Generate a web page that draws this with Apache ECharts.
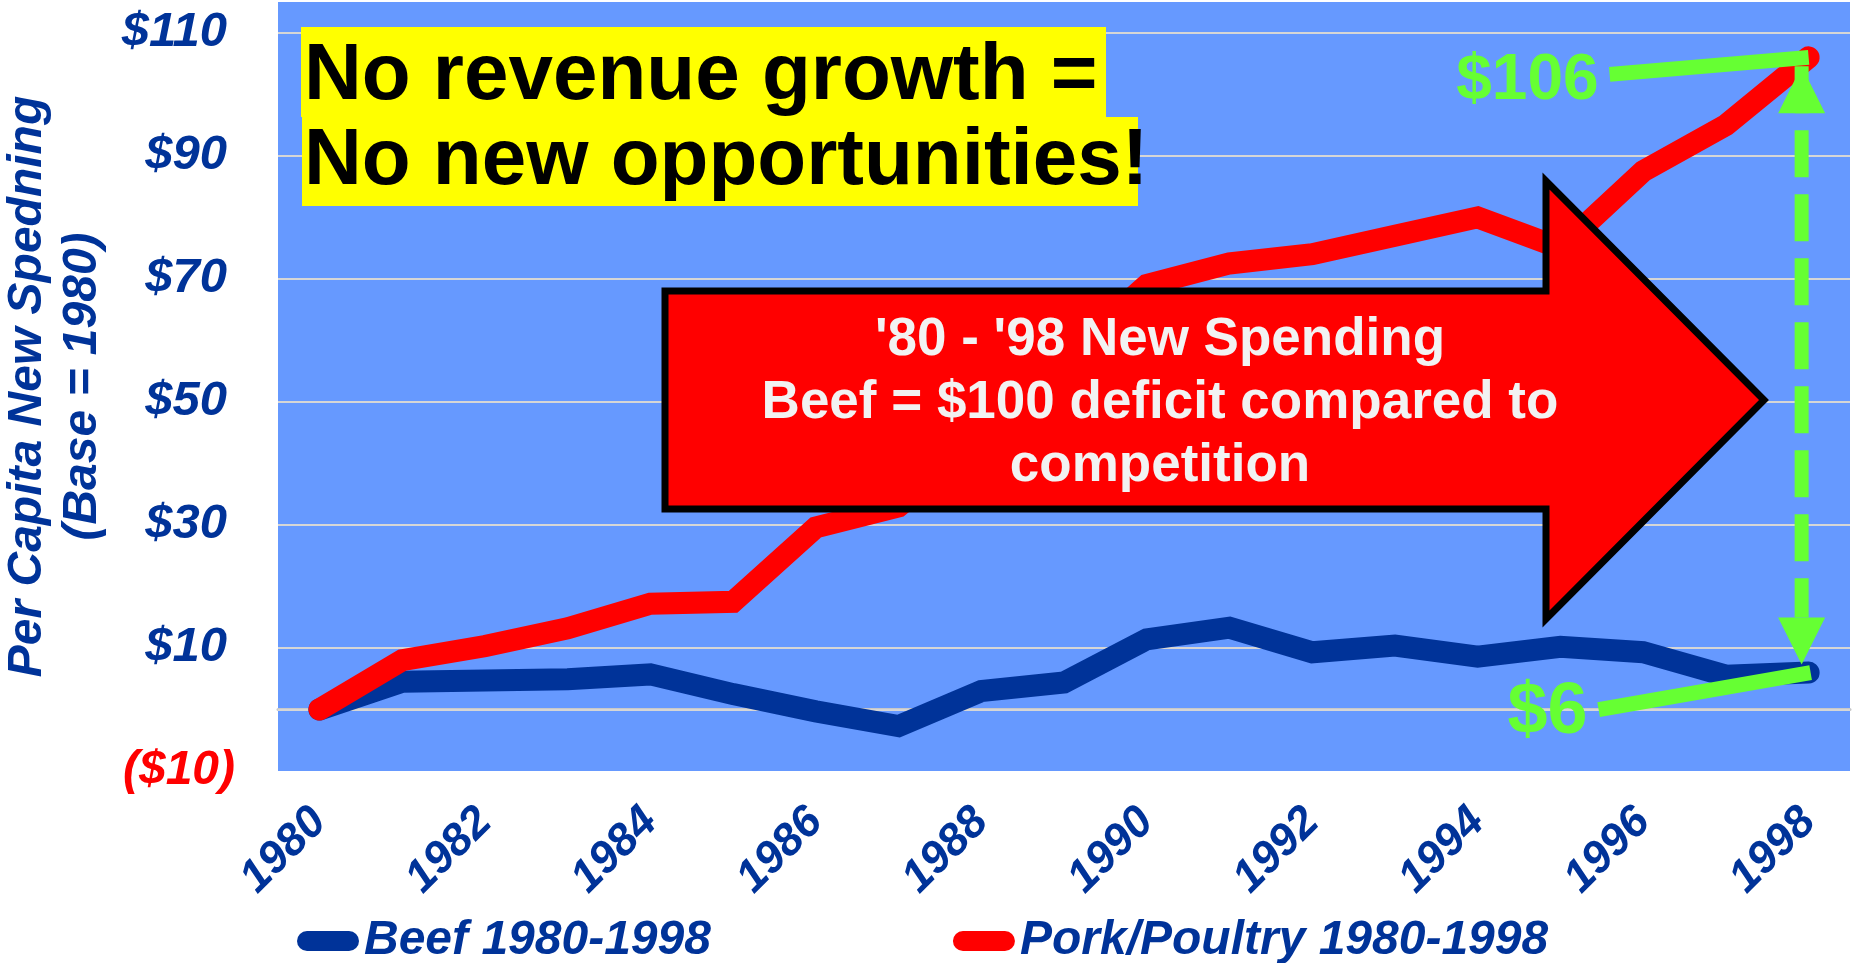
<!DOCTYPE html>
<html>
<head>
<meta charset="utf-8">
<script src="https://cdn.jsdelivr.net/npm/echarts@6/dist/echarts.min.js"></script>
<style>
html,body{margin:0;padding:0;background:#ffffff;}
#c{width:1855px;height:963px;}
</style>
</head>
<body>
<div id="c"></div>
<script>
// ---------- data ----------
const years = ['1980','1981','1982','1983','1984','1985','1986','1987','1988','1989',
               '1990','1991','1992','1993','1994','1995','1996','1997','1998'];
const beef = [0, 4.5, 4.7, 4.9, 5.7, 2.5, -0.3, -2.7, 3.0, 4.4,
              11.4, 13.3, 9.3, 10.4, 8.6, 10.2, 9.3, 5.5, 6];
const porkPoultry = [0, 8, 10.3, 13.2, 17.2, 17.5, 29.6, 33, 44, 57,
                     69, 72.5, 74, 77, 80, 75, 87.5, 95, 106];
const seriesNames = ['Beef 1980-1998', 'Pork/Poultry 1980-1998'];
const yLabelValues = [-10, 10, 30, 50, 70, 90, 110];
const gridLineValues = [0, 10, 30, 50, 70, 90, 110];
const yAxisTitle = 'Per Capita New Spedning\n(Base = 1980)';
const headline = ['No revenue growth =', 'No new opportunities!'];
const arrowText = ["'80 - '98 New Spending", 'Beef = $100 deficit compared to', 'competition'];
const porkEndLabel = '$106';
const beefEndLabel = '$6';

// ---------- style ----------
const FONT = '"Liberation Sans", Arial, Helvetica, sans-serif';
const NAVY = '#003399', RED = '#ff0000', GREEN = '#66ff33', PLOT_BG = '#6699ff';

const chart = echarts.init(document.getElementById('c'), null, {renderer: 'canvas'});

const option = {
  animation: false,
  backgroundColor: '#ffffff',
  grid: {left: 278, right: 5, top: 2, bottom: 192, show: true, backgroundColor: PLOT_BG, borderWidth: 0,
         containLabel: false, outerBoundsMode: 'none'},
  legend: {
    left: 292, top: 912,
    itemWidth: 62, itemHeight: 20, itemGap: 242,
    icon: 'path://M10,0H52A10,10,0,0,1,52,20H10A10,10,0,0,1,10,0Z',
    itemStyle: {borderWidth: 0},
    textStyle: {color: NAVY, fontSize: 48, fontWeight: 'bold', fontStyle: 'italic', fontFamily: FONT},
    data: seriesNames
  },
  xAxis: {
    type: 'category', data: years, boundaryGap: true,
    axisLine: {show: true, lineStyle: {color: '#c8c8c8', width: 3}},
    axisTick: {show: false},
    axisLabel: {interval: 1, rotate: 45, margin: 44, color: NAVY, fontSize: 45,
                fontWeight: 'bold', fontStyle: 'italic', fontFamily: FONT},
    splitLine: {show: false}
  },
  yAxis: {
    type: 'value', min: -10, max: 115, interval: 10,
    axisLine: {show: false}, axisTick: {show: false}, splitLine: {show: false},
    axisLabel: {
      margin: 43,
      formatter: function (v) {
        if (yLabelValues.indexOf(v) < 0) return '';
        return v < 0 ? '{neg|($' + (-v) + ')}' : '{pos|$' + v + '}';
      },
      rich: {
        neg: {color: RED, fontSize: 48, fontWeight: 'bold', fontStyle: 'italic', fontFamily: FONT},
        pos: {color: NAVY, fontSize: 49, fontWeight: 'bold', fontStyle: 'italic', fontFamily: FONT, padding: [0, 8, 0, 0]}
      }
    },
    name: yAxisTitle, nameLocation: 'middle', nameGap: 165, nameRotate: 90,
    nameTextStyle: {color: NAVY, fontSize: 48, fontWeight: 'bold', fontStyle: 'italic', fontFamily: FONT, lineHeight: 55, align: 'center'}
  },
  series: [
    {
      name: seriesNames[0], type: 'line', data: beef, showSymbol: false, symbol: 'none',
      color: NAVY,
      lineStyle: {color: NAVY, width: 22, cap: 'round', join: 'miter'},
      markLine: {
        silent: true, z: 1, symbol: ['none', 'none'],
        label: {show: false},
        lineStyle: {color: '#d6d6d6', width: 2, type: 'solid'},
        data: gridLineValues.map(v => ({yAxis: v}))
      }
    },
    {
      name: seriesNames[1], type: 'line', data: porkPoultry, showSymbol: false, symbol: 'none',
      color: RED,
      lineStyle: {color: RED, width: 22, cap: 'round', join: 'miter'}
    }
  ]
};
chart.setOption(option);

// ---------- annotations anchored to the 1998 data points ----------
const last = years.length - 1;
const pPork = chart.convertToPixel({seriesIndex: 1}, [last, porkPoultry[last]]);
const pBeef = chart.convertToPixel({seriesIndex: 0}, [last, beef[last]]);
const ax = pPork[0] - 7;
const topTip = pPork[1] + 9;
const botTip = pBeef[1] - 8;
const head = 47;

chart.setOption({
  graphic: [
    // big red arrow
    {type: 'polygon', z: 100,
     shape: {points: [[665, 291], [1546, 291], [1546, 181], [1764, 400], [1546, 619], [1546, 509], [665, 509]]},
     style: {fill: RED, stroke: '#000000', lineWidth: 7, lineJoin: 'miter'}},
    {type: 'text', z: 101,
     style: {text: arrowText.join('\n'), x: 1160, y: 403, align: 'center', verticalAlign: 'middle',
             fill: '#f2f2f2', font: 'bold 53px ' + FONT, lineHeight: 63}},
    // yellow headline
    {type: 'rect', z: 110, shape: {x: 301, y: 27, width: 805, height: 90}, style: {fill: '#ffff00'}},
    {type: 'rect', z: 110, shape: {x: 302, y: 117, width: 836, height: 89}, style: {fill: '#ffff00'}},
    {type: 'text', z: 111,
     style: {text: headline[0], x: 304, y: 77, align: 'left', verticalAlign: 'middle', fill: '#000', font: 'bold 80px ' + FONT}},
    {type: 'text', z: 111,
     style: {text: headline[1], x: 304, y: 162, align: 'left', verticalAlign: 'middle', fill: '#000', font: 'bold 80px ' + FONT}},
    // green callouts
    {type: 'line', z: 120, shape: {x1: pPork[0] - 199, y1: pPork[1] + 17, x2: pPork[0], y2: pPork[1]},
     style: {stroke: GREEN, lineWidth: 15, lineCap: 'butt'}},
    {type: 'text', z: 120,
     style: {text: porkEndLabel, x: pPork[0] - 210, y: pPork[1] + 24, align: 'right', verticalAlign: 'middle', fill: GREEN, font: 'bold 64px ' + FONT}},
    {type: 'line', z: 120, shape: {x1: pBeef[0] - 210, y1: pBeef[1] + 37, x2: pBeef[0] + 2, y2: pBeef[1]},
     style: {stroke: GREEN, lineWidth: 15, lineCap: 'butt'}},
    {type: 'text', z: 120,
     style: {text: beefEndLabel, x: pBeef[0] - 221, y: pBeef[1] + 41, align: 'right', verticalAlign: 'middle', fill: GREEN, font: 'bold 72px ' + FONT}},
    // dashed double arrow
    {type: 'line', z: 119, shape: {x1: ax, y1: topTip, x2: ax, y2: botTip - head},
     style: {stroke: GREEN, lineWidth: 14, lineDash: [47, 17], lineCap: 'butt'}},
    {type: 'polygon', z: 121, shape: {points: [[ax, topTip], [ax + head / 2, topTip + head], [ax - head / 2, topTip + head]]},
     style: {fill: GREEN}},
    {type: 'polygon', z: 121, shape: {points: [[ax, botTip], [ax + head / 2, botTip - head], [ax - head / 2, botTip - head]]},
     style: {fill: GREEN}}
  ]
});
</script>
</body>
</html>
